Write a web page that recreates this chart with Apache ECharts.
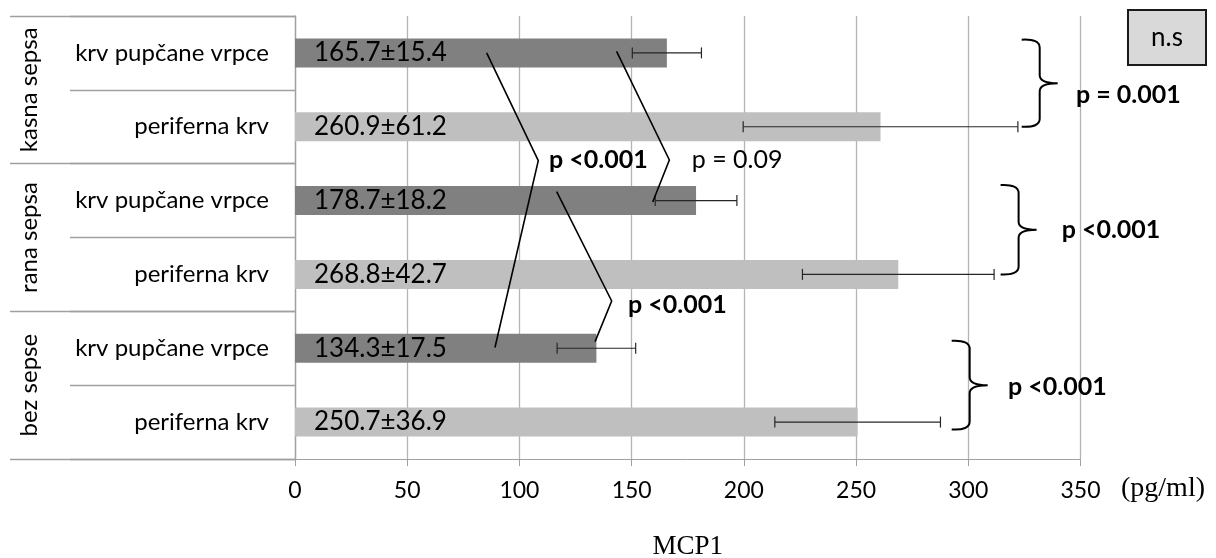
<!DOCTYPE html>
<html>
<head>
<meta charset="utf-8">
<script src="https://cdn.jsdelivr.net/npm/echarts@6/dist/echarts.min.js"></script>
<style>
  html, body { margin: 0; padding: 0; background: #fff; }
  #chart { width: 1216px; height: 558px; }
</style>
</head>
<body>
<div id="chart"></div>
<script>
// ---- data ----
const rowLabels = ['krv pupčane vrpce', 'periferna krv', 'krv pupčane vrpce', 'periferna krv', 'krv pupčane vrpce', 'periferna krv'];
const groupLabels = ['kasna sepsa', 'rana sepsa', 'bez sepse'];
const means = [165.7, 260.9, 178.7, 268.8, 134.3, 250.7];
const sds = [15.4, 61.2, 18.2, 42.7, 17.5, 36.9];
const isCord = [true, false, true, false, true, false];
const xTicks = [0, 50, 100, 150, 200, 250, 300, 350];
const unitLabel = '(pg/ml)';
const axisTitle = 'MCP1';
// comparison lines: points as [value, row position]
const zigLines = [
  [[85.4, 0.0], [108.4, 1.46], [89.1, 3.99]],
  [[143.3, -0.02], [166.8, 1.45], [159.4, 2.02]],
  [[116.6, 1.88], [141.1, 3.36], [133.7, 3.91]]
];
const zigTexts = [
  { text: 'p <0.001', at: [113.2, 1.45], bold: true },
  { text: 'p = 0.09', at: [176.8, 1.45], bold: false },
  { text: 'p <0.001', at: [148.4, 3.42], bold: true }
];
// braces: [tip value, top row pos, bottom row pos]
const braces = [
  [323.8, -0.18, 1.0],
  [314.4, 1.79, 3.0],
  [292.6, 3.90, 5.10]
];
const braceTexts = [
  { text: 'p = 0.001', at: [348.0, 0.57] },
  { text: 'p <0.001', at: [341.6, 2.40] },
  { text: 'p <0.001', at: [317.7, 4.52] }
];
const nsLabel = 'n.s';

const FONT = 'Lato, "Open Sans", sans-serif';
const SERIF = '"Liberation Serif", "DejaVu Serif", serif';

const chart = echarts.init(document.getElementById('chart'), null, { renderer: 'canvas' });

function rowY(api, pos) {
  const y0 = api.coord([0, 0])[1];
  const y1 = api.coord([0, 1])[1];
  return y0 + pos * (y1 - y0);
}

const option = {
  backgroundColor: '#fff',
  animation: false,
  grid: { left: 295, right: 135.5, top: 16, bottom: 99, outerBoundsMode: 'none', containLabel: false },
  xAxis: {
    type: 'value', min: 0, max: 350, interval: 50,
    axisLine: { show: true, lineStyle: { color: '#a0a0a0', width: 1 } },
    axisTick: { show: true, length: 7, lineStyle: { color: '#a0a0a0' } },
    splitLine: { show: true, lineStyle: { color: '#b4b4b4', width: 1.3 } },
    axisLabel: { fontFamily: FONT, fontSize: 23, color: '#000', margin: 20,
      formatter: v => xTicks.includes(v) ? String(v) : '' },
    name: axisTitle, nameLocation: 'middle', nameGap: 74,
    nameTextStyle: { fontFamily: SERIF, fontSize: 27, color: '#000' }
  },
  yAxis: [
    {
      type: 'category', inverse: true, data: rowLabels,
      axisLine: { show: true, lineStyle: { color: '#a0a0a0', width: 1.3 } },
      axisTick: { show: true, length: 225, alignWithLabel: false, interval: 0, lineStyle: { color: '#a0a0a0', width: 1.3 } },
      axisLabel: { fontFamily: FONT, fontSize: 24, color: '#000', margin: 26, interval: 0 },
      splitLine: { show: false }
    },
    {
      type: 'category', inverse: true, data: groupLabels, position: 'left',
      axisLine: { show: false },
      axisTick: { show: true, length: 285, alignWithLabel: false, interval: 0, lineStyle: { color: '#a0a0a0', width: 1.3 } },
      axisLabel: { fontFamily: FONT, fontSize: 24, color: '#000', rotate: 90, align: 'center', verticalAlign: 'middle', margin: 266, interval: 0, hideOverlap: false },
      splitLine: { show: false }
    }
  ],
  series: [
    {
      type: 'bar', xAxisIndex: 0, yAxisIndex: 0, barWidth: 29,
      data: means.map((m, i) => ({ value: m, itemStyle: { color: isCord[i] ? '#808080' : '#bfbfbf' } })),
      label: {
        show: true, position: 'insideLeft', distance: 19,
        fontFamily: FONT, fontSize: 26, color: '#000',
        formatter: p => means[p.dataIndex].toFixed(1) + '±' + sds[p.dataIndex].toFixed(1)
      },
      z: 2
    },
    {
      type: 'custom', xAxisIndex: 0, yAxisIndex: 0, z: 5,
      data: means.map((m, i) => [m - sds[i], m + sds[i], i]),
      renderItem: function (params, api) {
        const lo = api.coord([api.value(0), api.value(2)]);
        const hi = api.coord([api.value(1), api.value(2)]);
        const h = 5.5;
        const st = { stroke: '#262626', lineWidth: 1.2 };
        return { type: 'group', children: [
          { type: 'line', shape: { x1: lo[0], y1: lo[1], x2: hi[0], y2: hi[1] }, style: st },
          { type: 'line', shape: { x1: lo[0], y1: lo[1] - h, x2: lo[0], y2: lo[1] + h }, style: st },
          { type: 'line', shape: { x1: hi[0], y1: hi[1] - h, x2: hi[0], y2: hi[1] + h }, style: st }
        ] };
      }
    },
    {
      type: 'custom', xAxisIndex: 0, yAxisIndex: 0, z: 6, silent: true,
      data: zigLines.map((l, i) => [0, i]),
      renderItem: function (params, api) {
        const i = params.dataIndex;
        const pts = zigLines[i].map(p => [api.coord([p[0], 0])[0], rowY(api, p[1])]);
        const t = zigTexts[i];
        return { type: 'group', children: [
          { type: 'polyline', shape: { points: pts }, style: { stroke: '#000', lineWidth: 1.6, fill: null } },
          { type: 'text', style: {
              text: t.text, x: api.coord([t.at[0], 0])[0], y: rowY(api, t.at[1]),
              fontFamily: FONT, fontSize: 25, fontWeight: t.bold ? 'bold' : 'normal',
              fill: '#000', align: 'left', verticalAlign: 'middle' } }
        ] };
      }
    },
    {
      type: 'custom', xAxisIndex: 0, yAxisIndex: 0, z: 6, silent: true,
      data: braces.map((b, i) => [0, i]),
      renderItem: function (params, api) {
        const i = params.dataIndex;
        const b = braces[i];
        const tx = api.coord([b[0], 0])[0];
        const top = rowY(api, b[1]);
        const bot = rowY(api, b[2]);
        const mid = (top + bot) / 2;
        const w = 18, r = 8;
        const sx = tx + w, px = tx + 2 * w;
        const path = 'M' + tx + ',' + top +
          ' Q' + sx + ',' + (top - 1) + ' ' + sx + ',' + (top + r) +
          ' L' + sx + ',' + (mid - r) +
          ' Q' + sx + ',' + mid + ' ' + px + ',' + mid +
          ' Q' + sx + ',' + mid + ' ' + sx + ',' + (mid + r) +
          ' L' + sx + ',' + (bot - r) +
          ' Q' + sx + ',' + (bot + 1) + ' ' + tx + ',' + bot;
        const t = braceTexts[i];
        return { type: 'group', children: [
          { type: 'path', shape: { pathData: path }, style: { stroke: '#000', lineWidth: 2, fill: null } },
          { type: 'text', style: {
              text: t.text, x: api.coord([t.at[0], 0])[0], y: rowY(api, t.at[1]),
              fontFamily: FONT, fontSize: 25, fontWeight: 'bold',
              fill: '#000', align: 'left', verticalAlign: 'middle' } }
        ] };
      }
    }
  ],
  graphic: [
    { type: 'text', left: 1121, top: 475, z: 10,
      style: { text: unitLabel, fontFamily: SERIF, fontSize: 28, fill: '#000' } },
    { type: 'group', left: 1127, top: 9, z: 10, children: [
      { type: 'rect', shape: { x: 0, y: 0, width: 78, height: 55 },
        style: { fill: '#d9d9d9', stroke: '#1a1a1a', lineWidth: 2 } },
      { type: 'text', x: 39, y: 28, style: { text: nsLabel, fontFamily: FONT, fontSize: 26, fill: '#000', align: 'center', verticalAlign: 'middle' } }
    ] }
  ]
};
chart.setOption(option);
</script>
</body>
</html>
